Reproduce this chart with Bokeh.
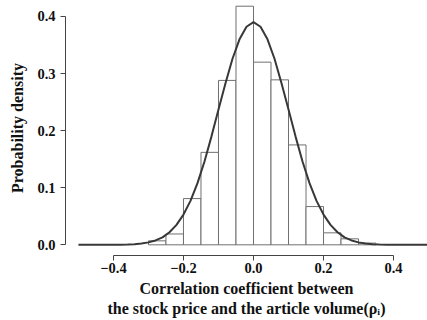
from bokeh.plotting import figure
from bokeh.models import FixedTicker, ColumnDataSource
from bokeh.embed import file_html
from bokeh.resources import INLINE

# Histogram bins (left edges, right edges) and densities
bin_left = [-0.30, -0.25, -0.20, -0.15, -0.10, -0.05, 0.00, 0.05, 0.10, 0.15, 0.20, 0.25, 0.30]
bin_right = [-0.25, -0.20, -0.15, -0.10, -0.05, 0.00, 0.05, 0.10, 0.15, 0.20, 0.25, 0.30, 0.35]
density = [0.007, 0.019, 0.081, 0.162, 0.288, 0.418, 0.320, 0.289, 0.175, 0.067, 0.021, 0.0105, 0.003]

# Fitted density curve
curve_x = [-0.50, -0.48, -0.46, -0.44, -0.42, -0.40, -0.38, -0.36, -0.34, -0.32, -0.30,
           -0.28, -0.26, -0.24, -0.22, -0.20, -0.18, -0.16, -0.14, -0.12, -0.10,
           -0.08, -0.06, -0.04, -0.02, 0.00, 0.02, 0.04, 0.06, 0.08, 0.10,
           0.12, 0.14, 0.16, 0.18, 0.20, 0.22, 0.24, 0.26, 0.28, 0.30,
           0.32, 0.34, 0.36, 0.38, 0.40, 0.42, 0.44, 0.46, 0.48, 0.50]
curve_y = [0.0, 0.0, 0.0, 0.0, 0.0, 0.0001, 0.0003, 0.0006, 0.0012, 0.0023, 0.0043,
           0.0077, 0.013, 0.022, 0.035, 0.053, 0.077, 0.108, 0.146, 0.190, 0.237,
           0.283, 0.326, 0.360, 0.382, 0.390, 0.382, 0.360, 0.326, 0.283, 0.237,
           0.190, 0.146, 0.108, 0.077, 0.053, 0.035, 0.022, 0.013, 0.0077, 0.0043,
           0.0023, 0.0012, 0.0006, 0.0003, 0.0001, 0.0, 0.0, 0.0, 0.0, 0.0]

x_ticks = [-0.4, -0.2, 0.0, 0.2, 0.4]
x_tick_labels = ["\u22120.4", "\u22120.2", "0.0", "0.2", "0.4"]
y_ticks = [0.0, 0.1, 0.2, 0.3, 0.4]
y_tick_labels = ["0.0", "0.1", "0.2", "0.3", "0.4"]

FONT = "Liberation Serif"
TXT = "#111111"
AX = "#444444"

p = figure(width=427, height=320, output_backend="svg", toolbar_location=None,
           x_range=(-0.537, 0.497), y_range=(-0.0187, 0.428))
p.min_border_left = 65
p.min_border_right = 0
p.min_border_top = 0
p.min_border_bottom = 65
p.outline_line_color = None
p.background_fill_color = "white"
p.border_fill_color = "white"
p.xgrid.visible = False
p.ygrid.visible = False

src = ColumnDataSource(dict(left=bin_left, right=bin_right, top=density))
p.quad(left="left", right="right", bottom=0, top="top", source=src,
       fill_color="white", line_color="#707070", line_width=1)
p.line(curve_x, curve_y, line_color="#383838", line_width=2)

for ax in (p.xaxis[0], p.yaxis[0]):
    ax.axis_line_color = AX
    ax.major_tick_line_color = AX
    ax.minor_tick_line_color = None
    ax.major_tick_out = 5
    ax.major_tick_in = 0
    ax.major_label_text_font = FONT
    ax.major_label_text_font_style = "bold"
    ax.major_label_text_font_size = "14.5px"
    ax.major_label_text_color = TXT
    ax.axis_label_text_font = FONT
    ax.axis_label_text_font_style = "bold"
    ax.axis_label_text_font_size = "16px"
    ax.axis_label_text_color = TXT

p.xaxis[0].ticker = FixedTicker(ticks=x_ticks)
p.xaxis[0].major_label_overrides = dict(zip(x_ticks, x_tick_labels))
p.xaxis[0].bounds = (-0.4, 0.4)
p.xaxis[0].axis_label = "Correlation coefficient between\nthe stock price and the article volume(\u03c1\u1d62)"
p.xaxis[0].axis_label_standoff = 4
p.xaxis[0].major_label_standoff = 2

p.yaxis[0].ticker = FixedTicker(ticks=y_ticks)
p.yaxis[0].major_label_overrides = dict(zip(y_ticks, y_tick_labels))
p.yaxis[0].bounds = (0.0, 0.4)
p.yaxis[0].axis_label = "Probability density"
p.yaxis[0].axis_label_standoff = 8
p.yaxis[0].major_label_standoff = 5

open("out.html", "w").write(file_html(p, INLINE))
